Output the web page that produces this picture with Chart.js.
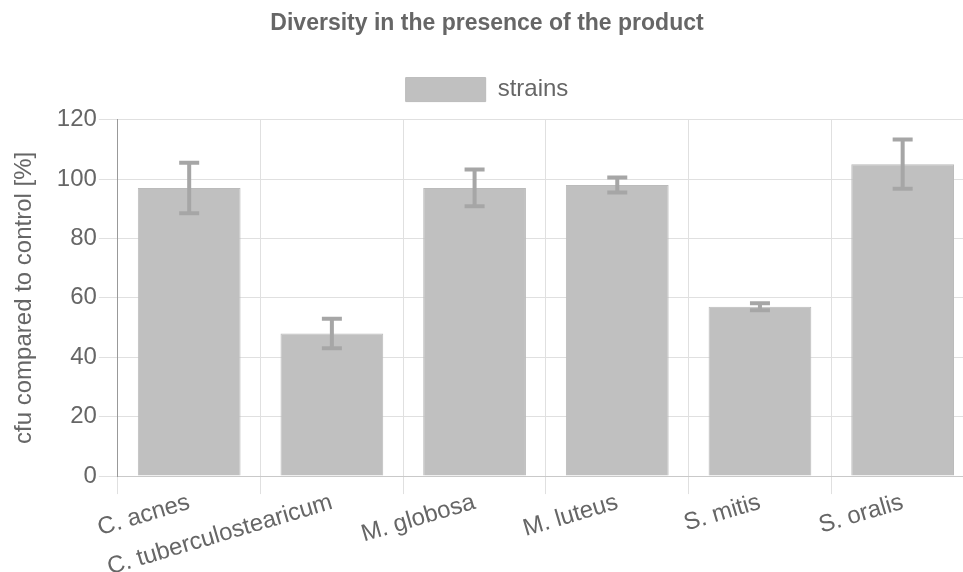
<!DOCTYPE html>
<html>
<head>
<meta charset="utf-8">
<script src="https://cdn.jsdelivr.net/npm/chart.js@4"></script>
<style>
  html, body { margin: 0; padding: 0; overflow: hidden; background: #fff; }
  #wrap { width: 982px; height: 576px; }
</style>
</head>
<body>
<div id="wrap"><canvas id="chart"></canvas></div>
<script>
// data
const strains = ['C. acnes', 'C. tuberculostearicum', 'M. globosa', 'M. luteus', 'S. mitis', 'S. oralis'];
const cfuPercent = [97, 48, 97, 98, 57, 105];
const cfuError = [8.5, 5, 6.2, 2.5, 1.2, 8.3];
const yTicks = [0, 20, 40, 60, 80, 100, 120];

Chart.defaults.font.family = '"Liberation Sans", Arial, sans-serif';
Chart.defaults.color = '#666';

// draws the +/- error whiskers on top of each bar
const errorBars = {
  id: 'errorBars',
  afterDatasetsDraw(chart) {
    const ctx = chart.ctx;
    const y = chart.scales.y;
    const meta = chart.getDatasetMeta(0);
    ctx.save();
    ctx.strokeStyle = '#a6a6a6';
    ctx.lineWidth = 4;
    meta.data.forEach(function (bar, i) {
      const top = y.getPixelForValue(cfuPercent[i] + cfuError[i]);
      const bottom = y.getPixelForValue(cfuPercent[i] - cfuError[i]);
      ctx.beginPath();
      ctx.moveTo(bar.x, top);
      ctx.lineTo(bar.x, bottom);
      ctx.moveTo(bar.x - 10, top);
      ctx.lineTo(bar.x + 10, top);
      ctx.moveTo(bar.x - 10, bottom);
      ctx.lineTo(bar.x + 10, bottom);
      ctx.stroke();
    });
    ctx.restore();
  }
};

// a bit more room under the legend
const legendGap = {
  id: 'legendGap',
  beforeInit(chart) {
    const fit = chart.legend.fit;
    chart.legend.fit = function () {
      fit.bind(chart.legend)();
      this.height += 8;
    };
  }
};

const ctx = document.getElementById('chart').getContext('2d');
new Chart(ctx, {
  type: 'bar',
  data: {
    labels: strains,
    datasets: [{
      label: 'strains',
      data: cfuPercent,
      backgroundColor: '#c0c0c0',
      borderColor: '#bbbbbb',
      borderWidth: 1
    }]
  },
  options: {
    responsive: true,
    maintainAspectRatio: false,
    animation: false,
    layout: { padding: { right: 8 } },
    plugins: {
      title: {
        display: true,
        text: 'Diversity in the presence of the product',
        font: { size: 23, weight: 'bold' },
        color: '#666',
        padding: { top: 10, bottom: 26 }
      },
      legend: {
        display: true,
        position: 'top',
        labels: { boxWidth: 80, boxHeight: 24, font: { size: 24 }, color: '#666', padding: 14 }
      },
      tooltip: { enabled: false }
    },
    scales: {
      x: {
        grid: { color: '#e0e0e0', tickLength: 18 },
        ticks: { font: { size: 24 }, color: '#666', minRotation: 16.5, maxRotation: 16.5, padding: -6 }
      },
      y: {
        min: 0,
        max: 120,
        afterBuildTicks: function (axis) {
          axis.ticks = yTicks.map(function (v) { return { value: v }; });
        },
        grid: { color: '#e0e0e0', tickLength: 19 },
        border: { color: '#999' },
        ticks: { font: { size: 24 }, color: '#666', padding: 2 },
        title: {
          display: true,
          text: 'cfu compared to control [%]',
          font: { size: 24 },
          color: '#666',
          padding: { top: 10, bottom: 16 }
        }
      }
    }
  },
  plugins: [errorBars, legendGap]
});
</script>
</body>
</html>
